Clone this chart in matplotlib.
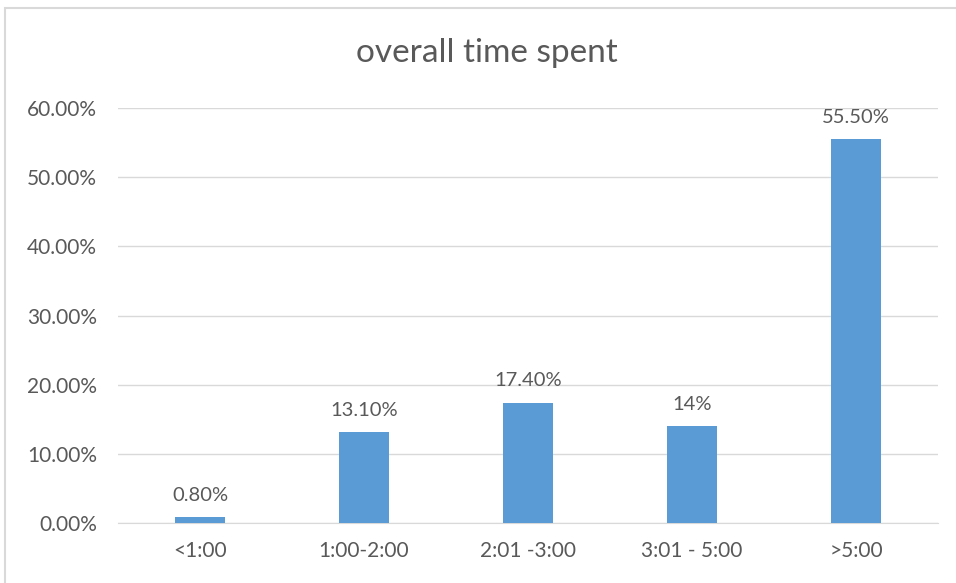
import matplotlib.pyplot as plt
from matplotlib.patches import Rectangle
from matplotlib.ticker import FuncFormatter

# Data
categories = ["<1:00", "1:00-2:00", "2:01 -3:00", "3:01 - 5:00", ">5:00"]
values = [0.8, 13.1, 17.4, 14.0, 55.5]
value_labels = ["0.80%", "13.10%", "17.40%", "14%", "55.50%"]

text_color = "#595959"
bar_color = "#5B9BD5"
grid_color = "#D9D9D9"

plt.rcParams['font.family'] = ['Lato', 'DejaVu Sans']

fig = plt.figure(figsize=(9.56, 5.83), dpi=100)
ax = fig.add_axes([118 / 956, 1 - 523 / 583, 820 / 956, 415 / 583])

# Chart border, like an Excel chart frame
fig.patches.append(Rectangle((5 / 956, -0.1), 1.2, 1 - 8 / 583 + 0.1,
                             transform=fig.transFigure, fill=False,
                             edgecolor=grid_color, linewidth=1.5))

x = range(len(categories))
bars = ax.bar(x, values, width=0.31, color=bar_color, zorder=3)

for b, lab in zip(bars, value_labels):
    ax.annotate(lab, (b.get_x() + b.get_width() / 2, b.get_height()),
                xytext=(0, 9.5), textcoords="offset points",
                ha="center", va="bottom", fontsize=14.5, color=text_color)

ax.set_xlim(-0.5, len(categories) - 0.5)
ax.set_ylim(0, 60)
ax.set_yticks(range(0, 61, 10))
ax.yaxis.set_major_formatter(FuncFormatter(lambda v, p: f"{v:.2f}%"))
ax.set_xticks(list(x))
ax.set_xticklabels(categories)

ax.grid(axis="y", color=grid_color, linewidth=1, zorder=0)
for s in ["top", "right", "left"]:
    ax.spines[s].set_visible(False)
ax.spines["bottom"].set_color(grid_color)
ax.tick_params(axis="both", length=0, labelsize=15, labelcolor=text_color)
ax.tick_params(axis="y", pad=15)
ax.tick_params(axis="x", pad=13)

fig.text(487 / 956, 1 - 53 / 583, "overall time spent", ha="center", va="center",
         fontsize=24, color=text_color)

fig.savefig("out.png", dpi=100)
